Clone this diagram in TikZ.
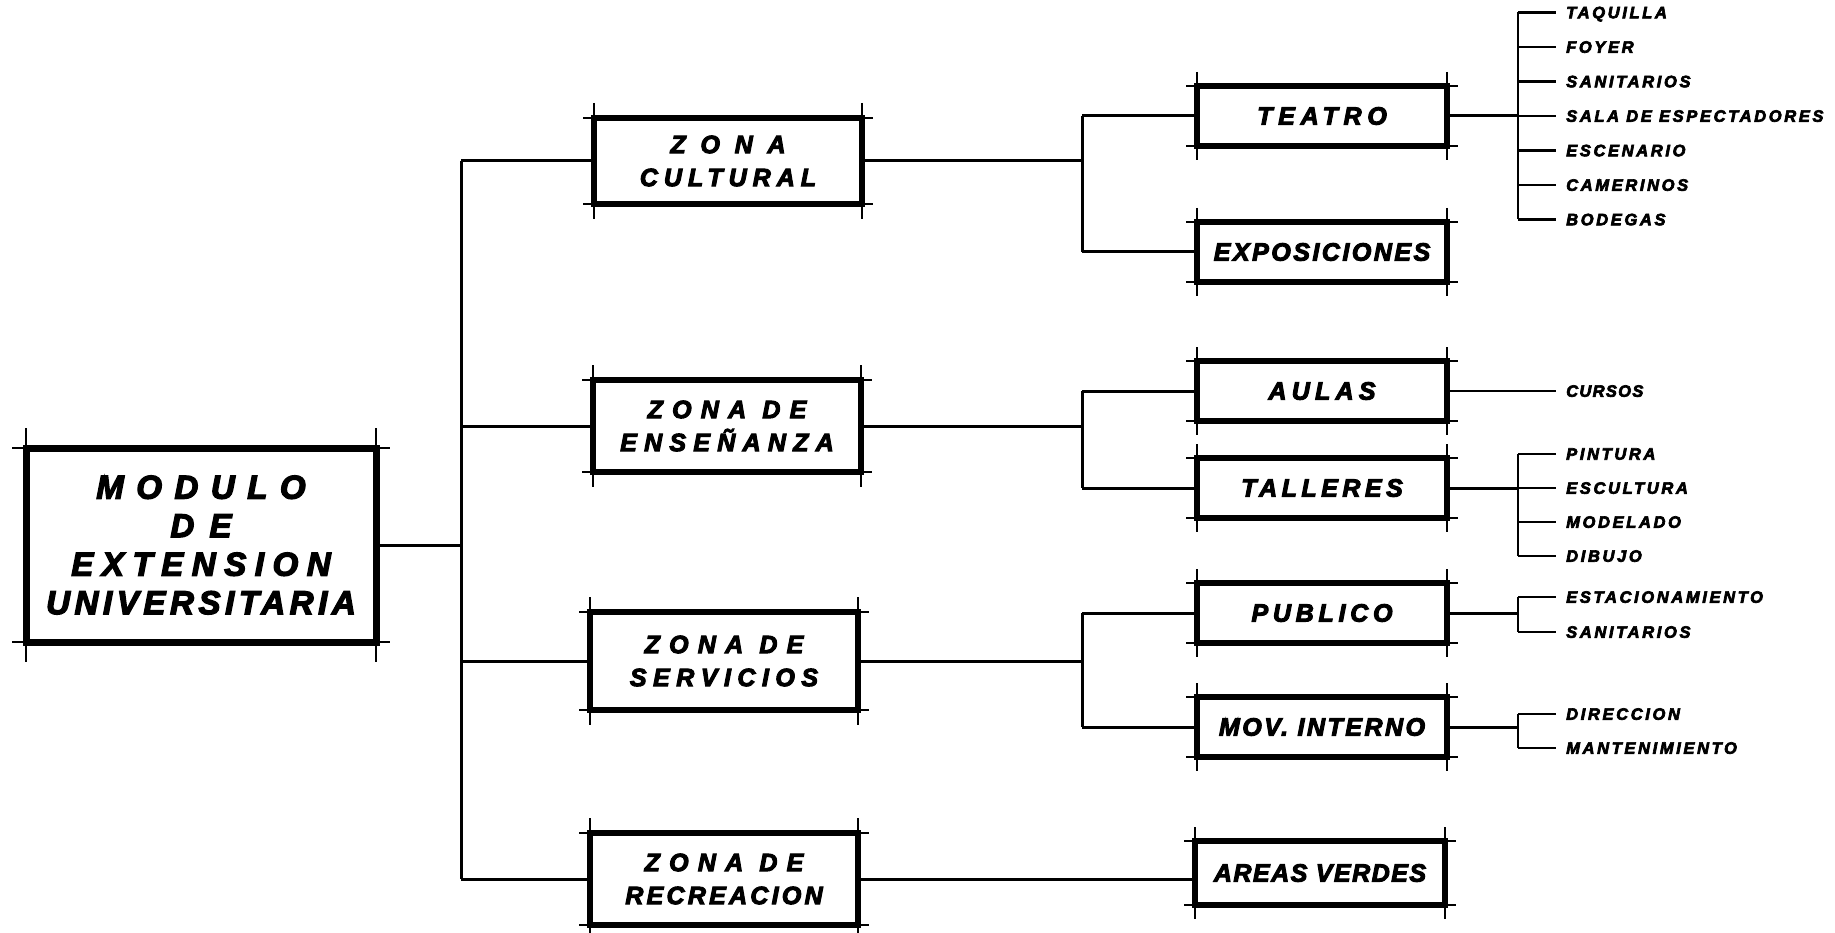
\documentclass[tikz,border=0pt]{standalone}
\usepackage{fontspec}
\setmainfont{Liberation Sans}[BoldItalicFeatures={FakeBold=4}]
\newcommand{\esp}[2]{{\addfontfeature{LetterSpace=#1}#2}}

\begin{document}
\begin{tikzpicture}[x=1pt,y=-1pt,
  caja/.style={draw, line width=6.5pt, outer sep=0pt, inner sep=0pt, align=center,
    minimum width=250pt, minimum height=60pt,
    font=\bfseries\itshape\fontsize{25}{33}\selectfont},
  zona/.style={caja, minimum width=268pt, minimum height=92pt},
  modulo/.style={caja, line width=7pt, minimum width=350pt, minimum height=194pt,
    font=\bfseries\itshape\fontsize{33}{38.5}\selectfont},
  hoja/.style={anchor=west, inner xsep=10pt, inner ysep=0pt, text depth=0pt,
    font=\bfseries\itshape\fontsize{16.5}{16.5}\selectfont},
  linea/.style={line width=3pt},
  rama/.style={line width=2.5pt},
  guia/.style={line width=1.5pt}]
\useasboundingbox (0,0) rectangle (1835,933);

% cajas
\node[modulo] (mod) at (201,545) {\esp{38}{MODULO}\\\esp{46}{DE}\\\esp{26}{EXTENSION}\\\esp{14}{UNIVERSITARIA}};
\node[zona, minimum height=86pt] (cult) at (728,161) {\esp{59}{ZONA}\\\esp{24}{CULTURAL}};
\node[zona] (ens) at (727,426) {\esp{37}{ZONA DE}\\\esp{29}{ENSEÑANZA}};
\node[zona, minimum height=98pt] (serv) at (724,661) {\esp{37}{ZONA DE}\\\esp{26}{SERVICIOS}};
\node[zona] (recr) at (724,879) {\esp{37}{ZONA DE}\\\esp{13}{RECREACION}};

\node[caja] (teat) at (1322,116) {\esp{23}{TEATRO}};
\node[caja] (expo) at (1322,252) {\esp{10}{EXPOSICIONES}};
\node[caja] (aulas) at (1322,391) {\esp{21}{AULAS}};
\node[caja] (tall) at (1322,488) {\esp{18}{TALLERES}};
\node[caja] (pub) at (1322,613) {\esp{19}{PUBLICO}};
\node[caja] (mov) at (1322,727) {\esp{10}{MOV. INTERNO}};
\node[caja, minimum height=64pt] (areas) at (1320,873) {\esp{6}{AREAS VERDES}};

% marcas de las esquinas
\foreach \n/\v/\h in {mod/20/14, cult/15/11, ens/15/11, serv/15/11, recr/15/11,
    teat/14/11, expo/14/11, aulas/14/11, tall/14/11, pub/14/11, mov/14/11, areas/14/11}{
  \draw[guia] ([yshift=\v pt]\n.north west) -- ([yshift=-\v pt]\n.south west);
  \draw[guia] ([yshift=\v pt]\n.north east) -- ([yshift=-\v pt]\n.south east);
  \draw[guia] ([xshift=-\h pt]\n.north west) -- ([xshift=\h pt]\n.north east);
  \draw[guia] ([xshift=-\h pt]\n.south west) -- ([xshift=\h pt]\n.south east);
}

% primer nivel
\coordinate (s1) at (461,0);
\draw[linea] (mod.east) -- (mod.east -| s1);
\draw[linea] (cult.west -| s1) -- (recr.west -| s1);
\foreach \z in {cult,ens,serv,recr}
  \draw[linea] (\z.west -| s1) -- (\z.west);

% segundo nivel
\coordinate (s2) at (1082,0);
\foreach \z/\a/\b in {cult/teat/expo, ens/aulas/tall, serv/pub/mov}{
  \draw[linea] (\z.east) -- (\z.east -| s2);
  \draw[linea] (\a.west -| s2) -- (\b.west -| s2);
  \draw[linea] (\a.west -| s2) -- (\a.west);
  \draw[linea] (\b.west -| s2) -- (\b.west);
}
\draw[linea] (recr.east) -- (recr.east -| areas.west);

% locales
\coordinate (s3) at (1518,0);
\foreach \h/\t [count=\i from 0] in {taq/TAQUILLA, foy/FOYER, san/SANITARIOS,
    sala/SALA DE ESPECTADORES, esc/ESCENARIO, cam/CAMERINOS, bod/BODEGAS}
  \node[hoja] (\h) at (1556,12.5+34.5*\i) {\esp{16}{\t}};
\node[hoja] (cur) at (1556,391) {\esp{8}{CURSOS}};
\foreach \h/\t [count=\i from 0] in {pin/PINTURA, escu/ESCULTURA, mode/MODELADO, dib/DIBUJO}
  \node[hoja] (\h) at (1556,454+34*\i) {\esp{16}{\t}};
\node[hoja] (est) at (1556,597) {\esp{16}{ESTACIONAMIENTO}};
\node[hoja] (san2) at (1556,632) {\esp{16}{SANITARIOS}};
\node[hoja] (dir) at (1556,714) {\esp{16}{DIRECCION}};
\node[hoja] (man) at (1556,748) {\esp{16}{MANTENIMIENTO}};

\draw[linea] (teat.east) -- (teat.east -| s3);
\draw[linea] (tall.east) -- (tall.east -| s3);
\draw[linea] (pub.east) -- (pub.east -| s3);
\draw[linea] (mov.east) -- (mov.east -| s3);
\draw[rama] (aulas.east) -- (cur.west);
\foreach \a/\b in {taq/bod, pin/dib, est/san2, dir/man}
  \draw[rama] (\a.west -| s3) -- (\b.west -| s3);
\foreach \h in {taq,foy,san,sala,esc,cam,bod,pin,escu,mode,dib,est,san2,dir,man}
  \draw[rama] (\h.west -| s3) -- (\h.west);
\end{tikzpicture}
\end{document}
